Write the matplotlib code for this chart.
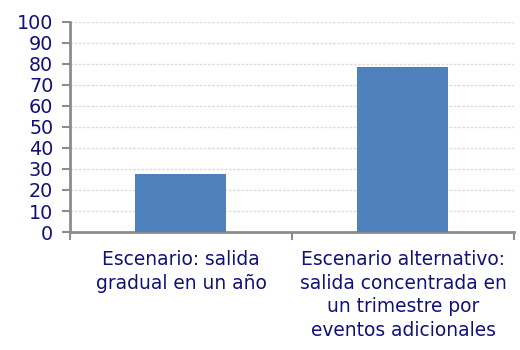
import matplotlib
matplotlib.use("Agg")
import matplotlib.pyplot as plt
import numpy as np

# datos
categorias = ["Escenario: salida\ngradual en un año",
              "Escenario alternativo:\nsalida concentrada en\nun trimestre por\neventos adicionales"]
valores = [27.7, 78.6]
yticks = list(range(0, 101, 10))

NAVY = "#10107a"
GRIS = "#8c8c8c"

fig = plt.figure(figsize=(5.2, 3.5), dpi=100)
ax = fig.add_axes([0.1346, 0.337, 0.8538, 0.601])

x = np.arange(len(categorias))
ax.bar(x, valores, width=0.41, color="#4f81bd", zorder=3)

ax.set_xlim(-0.5, len(categorias) - 0.5)
ax.set_ylim(0, 100)
ax.set_yticks(yticks)
ax.set_yticklabels([str(v) for v in yticks], color=NAVY, fontsize=13.8)

ax.set_xticks(x)
ax.set_xticklabels(categorias, color=NAVY, fontsize=13.4, linespacing=1.3)
ax.tick_params(axis="x", which="major", length=0, pad=13)
ax.set_xticks(np.arange(-0.5, len(categorias)), minor=True)
ax.tick_params(axis="x", which="minor", length=6, width=1.5, color=GRIS)
ax.tick_params(axis="y", length=6, width=1.5, color=GRIS, pad=6)

ax.grid(axis="y", color="#dedede", linestyle=(0, (2, 1)), linewidth=1, zorder=0)
for s in ["top", "right"]:
    ax.spines[s].set_visible(False)
for s in ["left", "bottom"]:
    ax.spines[s].set_color(GRIS)
    ax.spines[s].set_linewidth(2)

fig.savefig("out.png", dpi=100)
